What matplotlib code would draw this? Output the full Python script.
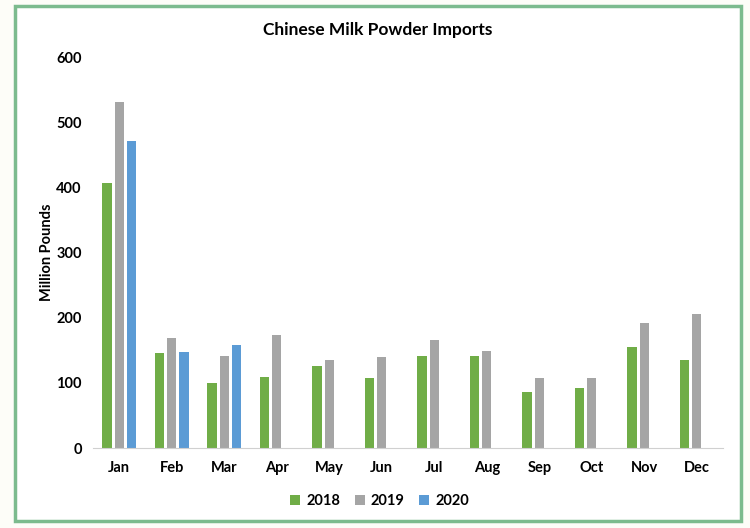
import numpy as np
import matplotlib
matplotlib.use("Agg")
import matplotlib.pyplot as plt
from matplotlib.patches import Rectangle

plt.rcParams['font.family'] = ['Lato', 'DejaVu Sans']
plt.rcParams['font.weight'] = 'bold'

months = ["Jan", "Feb", "Mar", "Apr", "May", "Jun",
          "Jul", "Aug", "Sep", "Oct", "Nov", "Dec"]
imports_2018 = [406, 146, 100, 109, 126, 107, 141, 141, 86, 92, 155, 135]
imports_2019 = [531, 169, 141, 173, 135, 140, 166, 149, 108, 108, 192, 206]
imports_2020 = [471, 147, 158]
years = ["2018", "2019", "2020"]
colors = ["#70ad47", "#a5a5a5", "#5b9bd5"]

fig = plt.figure(figsize=(7.5, 5.28), dpi=100)
fig.patch.set_facecolor("#fdfdf8")
# white panel with green border, behind the axes
fig.patches.append(Rectangle((0.02, 0.013), 0.968, 0.975, transform=fig.transFigure,
                             facecolor="white", edgecolor="#7cbb8e", linewidth=2.5, zorder=-5))

ax = fig.add_axes([0.124, 0.1515, 0.84, 0.7405])
ax.set_facecolor("none")
ax.set_zorder(2)

x = np.arange(len(months))
w = 0.18
step = 0.235
series = [imports_2018, imports_2019, imports_2020]
for i, (vals, yr, c) in enumerate(zip(series, years, colors)):
    ax.bar(x[:len(vals)] + (i - 1) * step, vals, width=w, color=c, label=yr)

ax.set_xlim(-0.5, 11.5)
ax.set_ylim(0, 600)
ax.set_yticks(range(0, 601, 100))
ax.set_xticks(x)
ax.set_xticklabels(months)
ax.tick_params(length=0, labelsize=10.5, colors="black")
ax.tick_params(axis="x", pad=9)
ax.tick_params(axis="y", pad=8)
for s in ["top", "right", "left"]:
    ax.spines[s].set_visible(False)
ax.spines["bottom"].set_color("#d0d0d0")

ax.set_ylabel("Million Pounds", fontsize=10.5, fontweight="bold", labelpad=2)
fig.text(0.503, 0.944, "Chinese Milk Powder Imports", ha="center", va="center", fontsize=12.5)

ax.legend(loc="center", bbox_to_anchor=(0.455, -0.135), ncol=3, frameon=False,
          fontsize=10.5, handlelength=0.7, handleheight=0.7, handletextpad=0.4, columnspacing=1.0)

fig.savefig("out.png", dpi=100)
